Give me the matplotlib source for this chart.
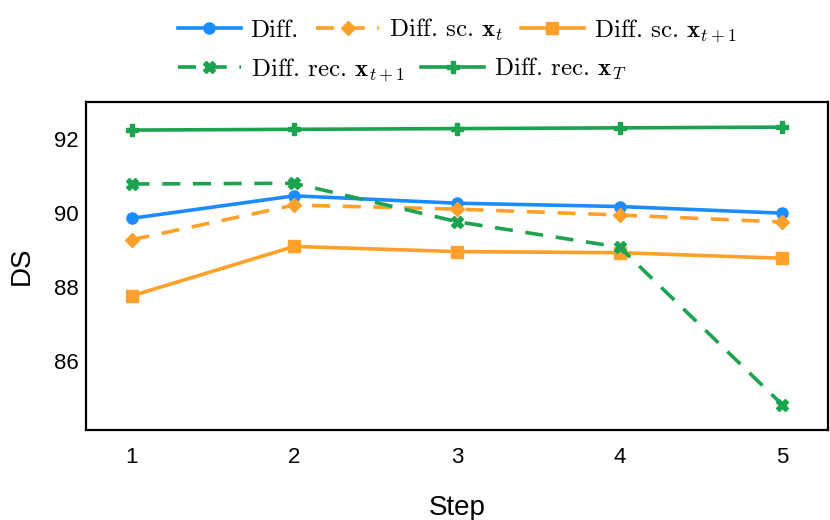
import matplotlib
matplotlib.use("Agg")
import matplotlib.pyplot as plt

steps = [1, 2, 3, 4, 5]
diff = [89.85, 90.46, 90.26, 90.17, 89.99]
diff_sc_xt = [89.27, 90.21, 90.10, 89.94, 89.75]
diff_sc_xt1 = [87.75, 89.09, 88.95, 88.92, 88.77]
diff_rec_xt1 = [90.78, 90.80, 89.76, 89.07, 84.80]
diff_rec_xT = [92.24, 92.26, 92.28, 92.30, 92.32]

labels = [r'Diff.',
          r'Diff. sc. $\mathbf{x}_t$',
          r'Diff. sc. $\mathbf{x}_{t+1}$',
          r'Diff. rec. $\mathbf{x}_{t+1}$',
          r'Diff. rec. $\mathbf{x}_T$']

plt.rcParams['font.family'] = ['Liberation Sans', 'DejaVu Sans']
plt.rcParams['mathtext.fontset'] = 'cm'

blue = '#1a8cff'
orange = '#ffa02b'
green = '#1ba350'

fig = plt.figure(figsize=(8.3, 5.2), dpi=100)
ax = fig.add_axes([86/830, 1-430/520, (828-86)/830, (430-102)/520])

lw = 2.6
dash = (5, 3.5)
h = []
h += ax.plot(steps, diff, color=blue, lw=lw, marker='o', ms=8, label=labels[0])
h += ax.plot(steps, diff_sc_xt, color=orange, lw=lw, marker='D', ms=7.5, dashes=dash, label=labels[1])
h += ax.plot(steps, diff_sc_xt1, color=orange, lw=lw, marker='s', ms=8, label=labels[2])
h += ax.plot(steps, diff_rec_xt1, color=green, lw=lw, marker='X', ms=9, dashes=dash, label=labels[3])
h += ax.plot(steps, diff_rec_xT, color=green, lw=lw, marker='P', ms=9, label=labels[4])

ax.set_xlim(0.72, 5.28)
ax.set_ylim(84.12, 93.0)
ax.set_xticks(steps)
ax.set_yticks([86, 88, 90, 92])
ax.tick_params(length=0, labelsize=16)
ax.tick_params(axis='x', pad=12)
ax.tick_params(axis='y', pad=5)
for s in ax.spines.values():
    s.set_linewidth(1.6)
ax.set_xlabel('Step', fontsize=20, labelpad=20)
ax.set_ylabel('DS', fontsize=20, labelpad=14)

legkw = dict(frameon=False, prop={'family': 'cmr10', 'size': 18},
             handlelength=2.5, handletextpad=0.4,
             columnspacing=0.7, borderpad=0, borderaxespad=0)
cx = (86 + 828) / 2 / 830
leg1 = fig.legend(h[:3], labels[:3], ncol=3, loc='center',
                  bbox_to_anchor=(cx, 1-31/520), **legkw)
fig.canvas.draw()
bb = leg1.get_window_extent().transformed(fig.transFigure.inverted())
leg2 = fig.legend(h[3:], labels[3:], ncol=2, loc='center left',
                  bbox_to_anchor=(bb.x0, 1-70/520), **legkw)

fig.savefig('out.png', dpi=100)
